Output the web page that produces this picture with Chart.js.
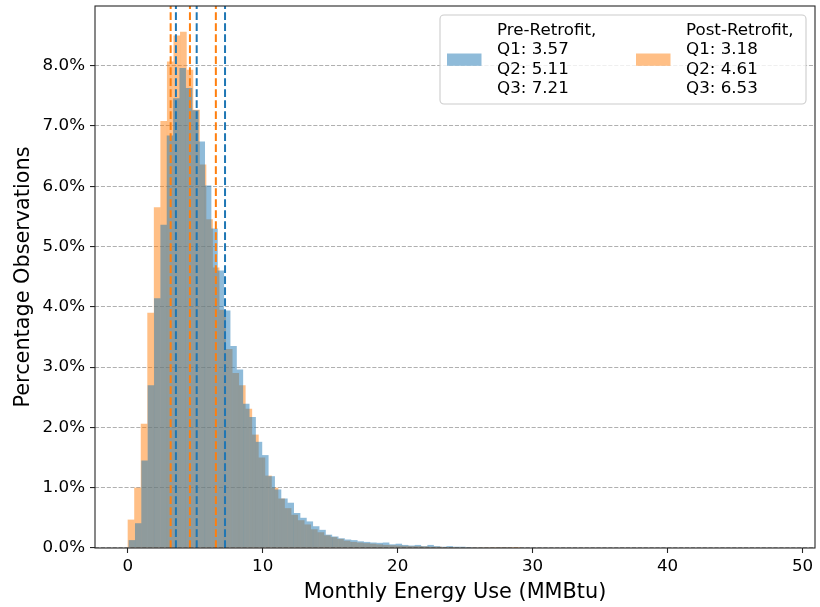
<!DOCTYPE html>
<html>
<head>
<meta charset="utf-8">
<script src="https://cdn.jsdelivr.net/npm/chart.js@4.4.1/dist/chart.umd.min.js"></script>
<style>
  html, body { margin: 0; padding: 0; background: #fff; }
  canvas { display: block; }
</style>
</head>
<body>
<canvas id="myChart" width="820" height="607"></canvas>
<script>
// histogram bins: 100 bins over each series' own range, values in percent of observations
var preStart = 0.07;      // MMBtu, left edge of first pre-retrofit bin
var preBinWidth = 0.471;
var preValues = [0.13, 0.41, 1.45, 2.70, 4.14, 5.36, 6.84, 7.46, 7.96, 7.63,
                 7.26, 6.74, 6.01, 5.30, 4.60, 3.94, 3.35, 2.96, 2.39, 2.17,
                 1.76, 1.54, 1.19, 0.97, 0.82, 0.75, 0.58, 0.50, 0.44, 0.36,
                 0.30, 0.22, 0.19, 0.16, 0.14, 0.13, 0.11, 0.10, 0.09, 0.085,
                 0.09, 0.06, 0.07, 0.05, 0.04, 0.05, 0.03, 0.05, 0.03, 0.02,
                 0.03, 0.02, 0.02, 0.015, 0.01, 0.01, 0.01, 0.008, 0.006, 0.005];

var postStart = 0.0;
var postBinWidth = 0.485;
var postValues = [0.47, 1.00, 2.06, 3.90, 5.65, 7.08, 8.07, 8.50, 8.56, 7.93,
                  7.27, 6.36, 5.45, 4.65, 3.95, 3.30, 2.90, 2.70, 2.31, 1.88,
                  1.50, 1.20, 1.00, 0.82, 0.66, 0.55, 0.46, 0.39, 0.31, 0.26,
                  0.21, 0.18, 0.15, 0.12, 0.10, 0.09, 0.08, 0.07, 0.06, 0.05,
                  0.045, 0.04, 0.035, 0.03, 0.03, 0.025, 0.02, 0.02, 0.015, 0.015,
                  0.01, 0.01, 0.01, 0.008, 0.006, 0.005, 0.004, 0.003, 0.003, 0.002];

var preQuartiles = [3.57, 5.11, 7.21];
var postQuartiles = [3.18, 4.61, 6.53];

var seriesNames = ["Pre-Retrofit,", "Post-Retrofit,"];
var xTicks = [0, 10, 20, 30, 40, 50];
var yTicks = [0, 1, 2, 3, 4, 5, 6, 7, 8];
var xMin = -2.425, xMax = 50.925;
var yMax = 8.99;

var blue = "#1f77b4";
var orange = "#ff7f0e";
var blueFill = "rgba(31,119,180,0.5)";
var orangeFill = "rgba(255,127,14,0.5)";
var font = "DejaVu Sans";

function binPoints(start, width, values) {
    return values.map(function (v, i) {
        return { x: start + (i + 0.5) * width, y: v };
    });
}

function quartileLine(q, color) {
    return {
        type: "line",
        data: [{ x: q, y: 0 }, { x: q, y: yMax }],
        borderColor: color,
        borderWidth: 2,
        borderDash: [7.7, 3.3],
        pointRadius: 0,
        fill: false,
        order: 0
    };
}

function legendLines(name, qs) {
    var lines = [name];
    qs.forEach(function (q, i) {
        lines.push("Q" + (i + 1) + ": " + q.toFixed(2));
    });
    return lines;
}

var datasets = [];
preQuartiles.forEach(function (q) { datasets.push(quartileLine(q, blue)); });
postQuartiles.forEach(function (q) { datasets.push(quartileLine(q, orange)); });
datasets.push({
    type: "bar",
    label: seriesNames[0],
    data: binPoints(preStart, preBinWidth, preValues),
    backgroundColor: blueFill,
    xAxisID: "x2",
    order: 1
});
datasets.push({
    type: "bar",
    label: seriesNames[1],
    data: binPoints(postStart, postBinWidth, postValues),
    backgroundColor: orangeFill,
    xAxisID: "x",
    order: 2
});

// spines on all four sides, above the bars
const framePlugin = {
    id: "frame",
    afterDatasetsDraw(chart) {
        const a = chart.chartArea, ctx = chart.ctx;
        ctx.save();
        ctx.strokeStyle = "#262626";
        ctx.lineWidth = 1.1;
        ctx.strokeRect(a.left, a.top, a.right - a.left, a.bottom - a.top);
        ctx.restore();
    }
};

// matplotlib-like legend with multi-line entries
const legendPlugin = {
    id: "quartileLegend",
    afterDraw(chart) {
        const a = chart.chartArea, ctx = chart.ctx;
        const right = a.right - 9, top = a.top + 9;
        const w = 366, h = 89, left = right - w;
        ctx.save();
        ctx.beginPath();
        ctx.roundRect(left, top, w, h, 4);
        ctx.fillStyle = "rgba(255,255,255,0.8)";
        ctx.fill();
        ctx.strokeStyle = "#cccccc";
        ctx.lineWidth = 1.1;
        ctx.stroke();

        const entries = [
            { lines: legendLines(seriesNames[0], preQuartiles), fill: blueFill, x: left + 7 },
            { lines: legendLines(seriesNames[1], postQuartiles), fill: orangeFill, x: left + 196 }
        ];
        ctx.font = "16.7px '" + font + "'";
        ctx.textBaseline = "alphabetic";
        entries.forEach(function (e) {
            ctx.fillStyle = e.fill;
            ctx.fillRect(e.x, top + 38.5, 34.5, 12.3);
            ctx.fillStyle = "#000";
            e.lines.forEach(function (t, i) {
                ctx.fillText(t, e.x + 50, top + 20 + i * 19.4);
            });
        });
        ctx.restore();
    }
};

new Chart("myChart", {
    type: "bar",
    data: { datasets: datasets },
    options: {
        responsive: false,
        animation: false,
        devicePixelRatio: 1,
        grouped: false,
        barPercentage: 1,
        categoryPercentage: 1,
        inflateAmount: 0.06,
        borderWidth: 0,
        layout: { padding: { top: 6, right: 5, left: 0, bottom: 0 } },
        plugins: {
            legend: { display: false },
            tooltip: { enabled: false }
        },
        scales: {
            x: {
                type: "linear",
                min: xMin,
                max: xMax,
                offset: false,
                afterBuildTicks: function (s) { s.ticks = xTicks.map(function (v) { return { value: v }; }); },
                afterFit: function (s) { s.height = 59; s.paddingLeft = 0; s.paddingRight = 0; },
                grid: { display: true, drawOnChartArea: false, offset: false, tickLength: 5, tickColor: "#262626", tickWidth: 1.1 },
                border: { display: false },
                ticks: {
                    padding: 4,
                    color: "#000",
                    font: { family: font, size: 16.7 },
                    maxRotation: 0,
                    autoSkip: false
                },
                title: {
                    display: true,
                    text: "Monthly Energy Use (MMBtu)",
                    color: "#000",
                    font: { family: font, size: 20.8 },
                    padding: { top: 0, bottom: 2 }
                }
            },
            x2: {
                type: "linear",
                position: "top",
                min: xMin,
                max: xMax,
                offset: false,
                display: false
            },
            y: {
                min: 0,
                max: yMax,
                afterBuildTicks: function (s) { s.ticks = yTicks.map(function (v) { return { value: v }; }); },
                afterFit: function (s) { s.width = 95; s.paddingTop = 0; s.paddingBottom = 0; },
                grid: { color: "#b0b0b0", lineWidth: 1.1, tickLength: 5, tickColor: "#262626", tickWidth: 1.1 },
                border: { display: false, dash: [4.1, 1.8] },
                ticks: {
                    padding: 5,
                    color: "#000",
                    font: { family: font, size: 16.7 },
                    callback: function (v) { return v.toFixed(1) + "%"; }
                },
                title: {
                    display: true,
                    text: "Percentage Observations",
                    color: "#000",
                    font: { family: font, size: 20.8 },
                    padding: { top: 11, bottom: 0 }
                }
            }
        }
    },
    plugins: [framePlugin, legendPlugin]
});
</script>
</body>
</html>
